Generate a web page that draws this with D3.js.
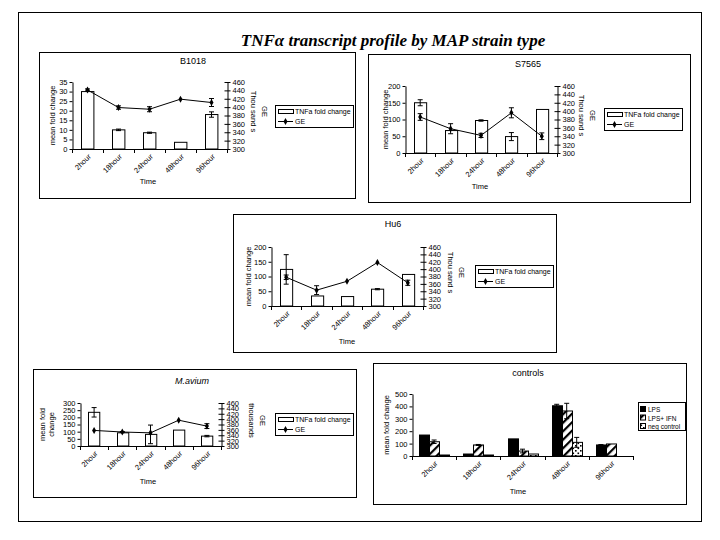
<!DOCTYPE html>
<html><head><meta charset="utf-8">
<script src="https://cdn.jsdelivr.net/npm/d3@7"></script>
<style>
body{margin:0;background:#fff;}
svg{display:block;}
text{font-family:"Liberation Sans",Arial,sans-serif;fill:#000;}
</style></head>
<body><svg id="c" width="720" height="540"></svg>
<script>
// ---------- DATA ----------
const categories = ["2hour","18hour","24hour","48hour","96hour"];
const geTicks = [300,320,340,360,380,400,420,440,460];

const b1018Fold    = [30, 10, 8.5, 3.5, 18];
const b1018FoldErr = [0, 0.4, 0.3, 0, 1.4];
const b1018GE      = [441, 399, 395, 419, 411];
const b1018GEErr   = [2.5, 4, 6, 0, 9.5];
const b1018Ticks   = [0,5,10,15,20,25,30,35];

const s7565Fold    = [150, 67, 97, 49, 130];
const s7565FoldErr = [9, 0, 2, 12, 0];
const s7565GE      = [386, 358, 342, 396, 340];
const s7565GEErr   = [8, 12, 5, 12, 8];
const s7565Ticks   = [0,50,100,150,200];

const hu6Fold    = [124, 34, 32, 57, 107];
const hu6FoldErr = [50, 0, 0, 2, 0];
const hu6GE      = [378, 343, 367, 418, 363];
const hu6GEErr   = [6, 12, 0, 0, 7];
const hu6Ticks   = [0,50,100,150,200];

const maviumFold    = [235, 92, 81, 111, 69];
const maviumFoldErr = [33, 0, 65, 0, 5];
const maviumGE      = [358, 352, 349, 396, 374];
const maviumGEErr   = [0, 2, 0, 0, 9];
const maviumTicks   = [0,50,100,150,200,250,300];

const controlSeries = ["LPS","LPS+ IFN","neg control"];
const lps       = [169, 16, 138, 405, 89];
const lpsErr    = [0, 0, 0, 12, 3];
const lpsIfn    = [115, 89, 40, 363, 97];
const lpsIfnErr = [14, 4, 15, 62, 0];
const negCtl    = [8, 8, 16, 110, 0];
const negCtlErr = [0, 0, 0, 40, 0];
const controlTicks = [0,100,200,300,400,500];

// ---------- DRAW ----------
const svg = d3.select("#c");
const defs = svg.append("defs");
const hatch = defs.append("pattern").attr("id","hatch").attr("patternUnits","userSpaceOnUse")
  .attr("width",6).attr("height",6).attr("patternTransform","rotate(45)");
hatch.append("rect").attr("width",6).attr("height",6).attr("fill","#fff");
hatch.append("rect").attr("width",2.2).attr("height",6).attr("fill","#000");
const dots = defs.append("pattern").attr("id","dots").attr("patternUnits","userSpaceOnUse")
  .attr("width",5).attr("height",5);
dots.append("rect").attr("width",5).attr("height",5).attr("fill","#fff");
dots.append("rect").attr("x",0).attr("y",0).attr("width",1.6).attr("height",1.6).attr("fill","#000");
dots.append("rect").attr("x",2.5).attr("y",2.5).attr("width",1.6).attr("height",1.6).attr("fill","#000");

// outer frame
svg.append("rect").attr("x",18.5).attr("y",12.5).attr("width",683).attr("height",509)
  .attr("fill","none").attr("stroke","#000").attr("stroke-width",1);

svg.append("text").attr("x",393).attr("y",46).attr("text-anchor","middle")
  .style("font-family","'Liberation Serif','Times New Roman',serif")
  .style("font-weight","bold").style("font-style","italic").style("font-size","17px")
  .text("TNFα transcript profile by MAP strain type");

const FS = 7.5;

function xAxis(g, x, yBot, tickShift){
  const [x0,x1] = x.range();
  g.append("line").attr("x1",x0).attr("x2",x1).attr("y1",yBot+0.5).attr("y2",yBot+0.5).attr("stroke","#000");
  const bounds = categories.map(c=>x(c)).concat([x1]);
  g.selectAll(".bt").data(bounds).join("line")
    .attr("x1",d=>Math.round(d)+0.5).attr("x2",d=>Math.round(d)+0.5)
    .attr("y1",yBot).attr("y2",yBot+4).attr("stroke","#000");
  g.selectAll(".xl").data(categories).join("text")
    .attr("transform",d=>`translate(${x(d)+x.bandwidth()/2+tickShift},${yBot+8}) rotate(-45)`)
    .attr("text-anchor","end").style("font-size",FS+"px").text(d=>d);
}

function errBars(g, xs, ys, errs, yScale, cap){
  g.selectAll(null).data(xs.map((x,i)=>({x, y:ys[i], e:errs[i]})).filter(d=>d.e>0)).join(g=>{
    const gg = g.append("g");
    gg.append("line").attr("x1",d=>d.x).attr("x2",d=>d.x)
      .attr("y1",d=>yScale(d.y-d.e)).attr("y2",d=>yScale(d.y+d.e)).attr("stroke","#000");
    gg.append("line").attr("x1",d=>d.x-cap).attr("x2",d=>d.x+cap)
      .attr("y1",d=>yScale(d.y+d.e)).attr("y2",d=>yScale(d.y+d.e)).attr("stroke","#000");
    gg.append("line").attr("x1",d=>d.x-cap).attr("x2",d=>d.x+cap)
      .attr("y1",d=>yScale(d.y-d.e)).attr("y2",d=>yScale(d.y-d.e)).attr("stroke","#000");
    return gg;
  });
}

function dualPanel(L, title, fold, foldErr, ge, geErr, leftTicks){
  const g = svg.append("g");
  g.append("rect").attr("x",L.bx+0.5).attr("y",L.by+0.5).attr("width",L.bw).attr("height",L.bh)
    .attr("fill","none").attr("stroke","#000");
  const t = g.append("text").attr("x",L.tx).attr("y",L.ty).attr("text-anchor","middle")
    .style("font-size","9px").text(title);
  if (L.italic) t.style("font-style","italic");
  const x = d3.scaleBand().domain(categories).range([L.x0,L.x1]);
  const yL = d3.scaleLinear().domain([0,d3.max(leftTicks)]).range([L.y1,L.y0]);
  const yR = d3.scaleLinear().domain([300,460]).range([L.y1,L.y0]);
  const bw = x.bandwidth()*0.4;
  // bars
  g.selectAll(".bar").data(fold).join("rect")
    .attr("x",(d,i)=>Math.round(x(categories[i])+x.bandwidth()/2-bw/2)+0.5)
    .attr("y",d=>yL(d)).attr("width",bw).attr("height",d=>L.y1-yL(d))
    .attr("fill","#fff").attr("stroke","#000");
  const cx = categories.map(c=>x(c)+x.bandwidth()/2);
  errBars(g, cx, fold, foldErr, yL, 2.5);
  // left axis
  const la = g.append("g").attr("transform",`translate(${L.x0+0.5},0)`)
    .call(d3.axisLeft(yL).tickValues(leftTicks).tickSize(3).tickSizeOuter(0).tickPadding(2));
  la.selectAll("text").style("font-size",FS+"px").style("font-family","'Liberation Sans',Arial");
  // right axis
  const ra = g.append("g").attr("transform",`translate(${L.x1+0.5},0)`)
    .call(d3.axisRight(yR).tickValues(geTicks).tickSize(3).tickSizeOuter(0).tickPadding(2));
  ra.selectAll(".tick line").attr("x1",-3);
  ra.selectAll("text").style("font-size",FS+"px").style("font-family","'Liberation Sans',Arial");
  g.selectAll(".domain").attr("stroke","#000");
  xAxis(g, x, L.y1, 4);
  // GE line
  g.append("path").datum(ge).attr("fill","none").attr("stroke","#000")
    .attr("d", d3.line().x((d,i)=>cx[i]).y(d=>yR(d)));
  errBars(g, cx, ge, geErr, yR, 2.5);
  g.selectAll(".mk").data(ge).join("path")
    .attr("transform",(d,i)=>`translate(${cx[i]},${yR(d)})`)
    .attr("d", d3.symbol(d3.symbolDiamond, 14)).attr("fill","#000");
  // axis titles
  const midY = (L.y0+L.y1)/2;
  const ll = g.append("text").attr("transform",`translate(${L.lx},${midY}) rotate(-90)`)
    .attr("text-anchor","middle").style("font-size",FS+"px");
  L.leftLabel.forEach((s,i)=>ll.append("tspan").attr("x",0).attr("dy",i?9:0).text(s));
  g.append("text").attr("transform",`translate(${L.rx},${midY-4}) rotate(90)`)
    .attr("text-anchor","middle").style("font-size",FS+"px").text(L.rightLabel);
  g.append("text").attr("transform",`translate(${L.rx+11},${midY-4}) rotate(90)`)
    .attr("text-anchor","middle").style("font-size",FS+"px").text("GE");
  g.append("text").attr("x",L.timeX).attr("y",L.timeY).attr("text-anchor","middle")
    .style("font-size",FS+"px").text("Time");
  // legend
  const lg = g.append("g").attr("transform",`translate(${L.lgx},${L.lgy})`);
  lg.append("rect").attr("x",0.5).attr("y",0.5).attr("width",L.lgw).attr("height",22)
    .attr("fill","#fff").attr("stroke","#000");
  lg.append("rect").attr("x",3.5).attr("y",4.5).attr("width",15).attr("height",4)
    .attr("fill","#fff").attr("stroke","#000");
  lg.append("text").attr("x",20).attr("y",9).style("font-size","7px").text("TNFa fold change");
  lg.append("line").attr("x1",3).attr("x2",18).attr("y1",16.5).attr("y2",16.5).attr("stroke","#000");
  lg.append("path").attr("transform","translate(10.5,16.5)").attr("d",d3.symbol(d3.symbolDiamond,14)).attr("fill","#000");
  lg.append("text").attr("x",20).attr("y",19).style("font-size","7px").text("GE");
}

dualPanel({bx:39,by:52,bw:316,bh:146,tx:193,ty:64,x0:72,x1:227,y0:82,y1:149,
  lx:55,rx:251,leftLabel:["mean fold change"],rightLabel:"Thou sand s",timeX:148,timeY:184,
  lgx:275,lgy:105,lgw:78}, "B1018", b1018Fold, b1018FoldErr, b1018GE, b1018GEErr, b1018Ticks);

dualPanel({bx:368,by:54,bw:322,bh:148,tx:528,ty:67,x0:405,x1:557,y0:86,y1:153,
  lx:388,rx:579,leftLabel:["mean fold change"],rightLabel:"Thou sand s",timeX:480,timeY:189,
  lgx:604,lgy:108,lgw:78}, "S7565", s7565Fold, s7565FoldErr, s7565GE, s7565GEErr, s7565Ticks);

dualPanel({bx:233,by:214,bw:323,bh:138,tx:393,ty:227,x0:271,x1:423,y0:247,y1:306,
  lx:251,rx:448,leftLabel:["mean fold change"],rightLabel:"Thou sand s",timeX:347,timeY:344,
  lgx:475,lgy:265,lgw:78}, "Hu6", hu6Fold, hu6FoldErr, hu6GE, hu6GEErr, hu6Ticks);

dualPanel({bx:33,by:369,bw:323,bh:128,tx:192,ty:384,italic:true,x0:80,x1:221,y0:403,y1:446,
  lx:45,rx:249,leftLabel:["mean fold","change"],rightLabel:"thousands",timeX:148,timeY:484,
  lgx:275,lgy:413,lgw:78}, "M.avium", maviumFold, maviumFoldErr, maviumGE, maviumGEErr, maviumTicks);

// controls panel
(function(){
  const g = svg.append("g");
  const L = {bx:373,by:363,bw:313,bh:141,x0:412,x1:633,y0:394,y1:456};
  g.append("rect").attr("x",L.bx+0.5).attr("y",L.by+0.5).attr("width",L.bw).attr("height",L.bh)
    .attr("fill","none").attr("stroke","#000");
  g.append("text").attr("x",528).attr("y",376).attr("text-anchor","middle").style("font-size","9px").text("controls");
  const x = d3.scaleBand().domain(categories).range([L.x0,L.x1]);
  const y = d3.scaleLinear().domain([0,500]).range([L.y1,L.y0]);
  const inner = d3.scaleBand().domain(controlSeries).range([0,30]);
  const series = [lps,lpsIfn,negCtl];
  const errs = [lpsErr,lpsIfnErr,negCtlErr];
  const fills = ["#000","url(#hatch)","url(#dots)"];
  series.forEach((vals,s)=>{
    const off = (x.bandwidth()-30)/2 + inner(controlSeries[s]);
    g.selectAll(null).data(vals).join("rect")
      .attr("x",(d,i)=>Math.round(x(categories[i])+off)+0.5).attr("y",d=>y(d))
      .attr("width",inner.bandwidth()).attr("height",d=>L.y1-y(d))
      .attr("fill",fills[s]).attr("stroke","#000");
  });
  series.forEach((vals,s)=>{
    const off = (x.bandwidth()-30)/2 + inner(controlSeries[s]) + inner.bandwidth()/2;
    const xs = categories.map(c=>x(c)+off);
    errBars(g, xs, vals, errs[s], y, 2.5);
  });
  const la = g.append("g").attr("transform",`translate(${L.x0+0.5},0)`)
    .call(d3.axisLeft(y).tickValues(controlTicks).tickSize(3).tickSizeOuter(0).tickPadding(2));
  la.selectAll("text").style("font-size",FS+"px").style("font-family","'Liberation Sans',Arial");
  la.select(".domain").attr("stroke","#000");
  xAxis(g, x, L.y1, 4);
  g.append("text").attr("transform",`translate(389,${(L.y0+L.y1)/2}) rotate(-90)`)
    .attr("text-anchor","middle").style("font-size",FS+"px").text("mean fold change");
  g.append("text").attr("x",518).attr("y",494).attr("text-anchor","middle").style("font-size",FS+"px").text("Time");
  const lg = g.append("g").attr("transform","translate(638,402)");
  lg.append("rect").attr("x",0.5).attr("y",0.5).attr("width",47).attr("height",28).attr("fill","#fff").attr("stroke","#000");
  controlSeries.forEach((s,i)=>{
    lg.append("rect").attr("x",2.5).attr("y",4.5+i*8.5).attr("width",5).attr("height",5)
      .attr("fill",fills[i]).attr("stroke","#000");
    lg.append("text").attr("x",10).attr("y",10+i*8.5).style("font-size","6.5px").text(s);
  });
})();
</script></body></html>
